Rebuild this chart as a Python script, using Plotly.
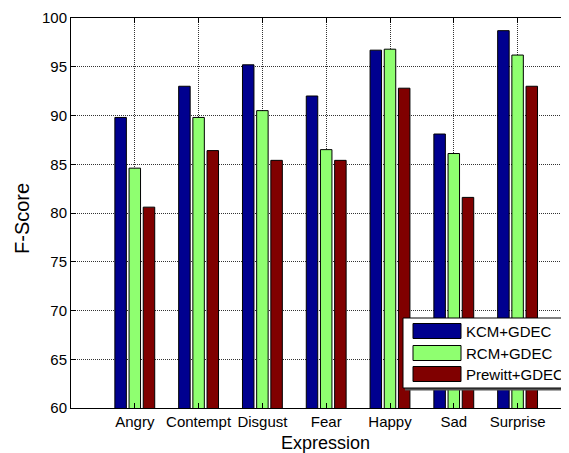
import plotly.graph_objects as go

categories = ["Angry", "Contempt", "Disgust", "Fear", "Happy", "Sad", "Surprise"]
kcm_gdec = [89.8, 93.0, 95.2, 92.0, 96.7, 88.1, 98.7]
rcm_gdec = [84.6, 89.8, 90.5, 86.5, 96.8, 86.1, 96.2]
prewitt_gdec = [80.6, 86.4, 85.4, 85.4, 92.8, 81.6, 93.0]
series_names = ["KCM+GDEC", "RCM+GDEC", "Prewitt+GDEC"]
colors = ["#00008F", "#8FFF70", "#800000"]
x_title = "Expression"
y_title = "F-Score"

# the page body adds an 8px offset; size the figure to the visible window
OFF = 8
W, H = 569 - OFF, 453 - OFF
ML, MR, MT, MB = 71 - OFF, 0, 18 - OFF, 45
PW, PH = W - ML - MR, H - MT - MB

def px_x(x):  # reference-image pixel -> paper
    return (x - OFF - ML) / PW

def px_y(y):
    return (H - MB - (y - OFF)) / PH

FONT = "Liberation Sans, Arial, sans-serif"

fig = go.Figure()
for name, vals, col in zip(series_names, [kcm_gdec, rcm_gdec, prewitt_gdec], colors):
    fig.add_trace(go.Bar(
        x=categories, y=vals, name=name,
        marker=dict(color=col, line=dict(color="black", width=1)),
        showlegend=False,
    ))

shapes = []
annotations = []
# custom legend (MATLAB-style wide swatches)
shapes.append(dict(type="rect", xref="paper", yref="paper",
                   x0=px_x(405), x1=px_x(600), y0=px_y(390.5), y1=px_y(320),
                   fillcolor="#555555", line=dict(width=0), layer="above"))
shapes.append(dict(type="rect", xref="paper", yref="paper",
                   x0=px_x(403), x1=px_x(600), y0=px_y(388), y1=px_y(318),
                   fillcolor="white", line=dict(color="black", width=1), layer="above"))
rows = [(323.5, 338.5), (345.5, 360.5), (366.5, 381.5)]
for (y0, y1), name, col in zip(rows, series_names, colors):
    shapes.append(dict(type="rect", xref="paper", yref="paper",
                       x0=px_x(413), x1=px_x(461), y0=px_y(y1), y1=px_y(y0),
                       fillcolor=col, line=dict(color="black", width=1), layer="above"))
    annotations.append(dict(text=name, xref="paper", yref="paper",
                            x=px_x(464), y=px_y((y0 + y1) / 2 + 0.5),
                            xanchor="left", yanchor="middle", showarrow=False,
                            font=dict(family=FONT, size=15, color="black")))

# axis titles
annotations.append(dict(text=x_title, xref="paper", yref="paper",
                        x=px_x(325), y=px_y(443), xanchor="center", yanchor="middle",
                        showarrow=False, font=dict(family=FONT, size=18, color="black")))
annotations.append(dict(text=y_title, xref="paper", yref="paper",
                        x=px_x(22), y=px_y(219), xanchor="center", yanchor="middle",
                        textangle=-90, showarrow=False,
                        font=dict(family=FONT, size=20, color="black")))

fig.update_layout(
    width=W, height=H,
    margin=dict(l=ML, r=MR, t=MT, b=MB, pad=0),
    paper_bgcolor="white", plot_bgcolor="white",
    barmode="group", bargap=0.333, bargroupgap=0.19,
    font=dict(family=FONT, size=15, color="black"),
    shapes=shapes, annotations=annotations,
    showlegend=False,
)
fig.update_xaxes(
    type="category", range=[-1, -1 + PW / 63.8], automargin=False,
    showline=True, linecolor="black", linewidth=1, mirror="ticks",
    ticks="inside", ticklen=5, tickcolor="black",
    showgrid=True, gridcolor="#333333", griddash="1px,1px", gridwidth=1,
    tickfont=dict(size=15),
)
fig.update_yaxes(
    range=[60, 100], dtick=5, automargin=False,
    showline=True, linecolor="black", linewidth=1, mirror=False,
    ticks="inside", ticklen=5, tickcolor="black",
    showgrid=True, gridcolor="#333333", griddash="1px,1px", gridwidth=1,
    zeroline=False,
    tickfont=dict(size=15),
)

fig.write_html("out.html")
